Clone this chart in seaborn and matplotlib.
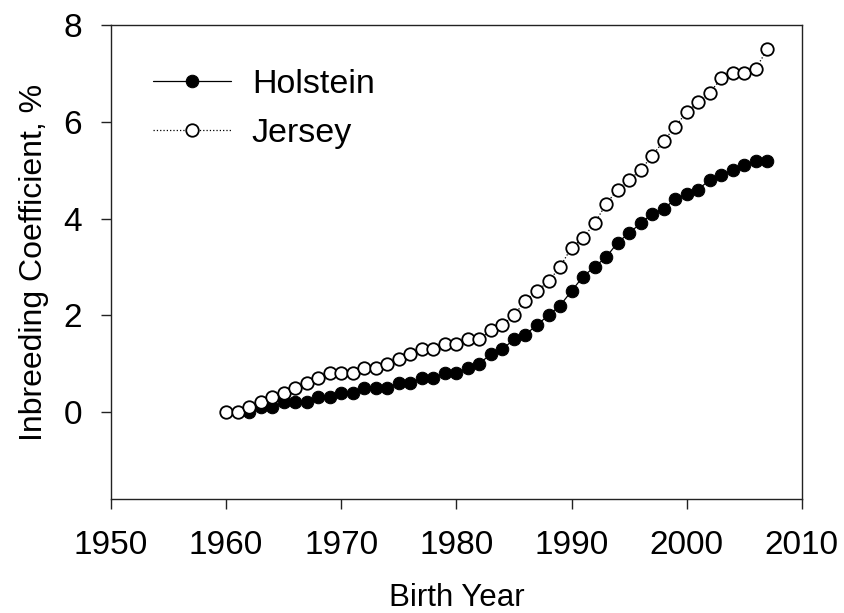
import numpy as np
import pandas as pd
import matplotlib
matplotlib.use("Agg")
import matplotlib.pyplot as plt
import seaborn as sns

# inbreeding coefficient (%) by birth year
holstein_years = list(range(1962, 2008))
holstein_vals = [0.0, 0.1, 0.1, 0.2, 0.2, 0.2, 0.3, 0.3,
                 0.4, 0.4, 0.5, 0.5, 0.5, 0.6, 0.6, 0.7, 0.7, 0.8,
                 0.8, 0.9, 1.0, 1.2, 1.3, 1.5, 1.6, 1.8, 2.0, 2.2,
                 2.5, 2.8, 3.0, 3.2, 3.5, 3.7, 3.9, 4.1, 4.2, 4.4,
                 4.5, 4.6, 4.8, 4.9, 5.0, 5.1, 5.2, 5.2]

jersey_years = list(range(1960, 2008))
jersey_vals = [0.0, 0.0, 0.1, 0.2, 0.3, 0.4, 0.5, 0.6, 0.7, 0.8,
               0.8, 0.8, 0.9, 0.9, 1.0, 1.1, 1.2, 1.3, 1.3, 1.4,
               1.4, 1.5, 1.5, 1.7, 1.8, 2.0, 2.3, 2.5, 2.7, 3.0,
               3.4, 3.6, 3.9, 4.3, 4.6, 4.8, 5.0, 5.3, 5.6, 5.9,
               6.2, 6.4, 6.6, 6.9, 7.0, 7.0, 7.1, 7.5]

x_ticks = [1950, 1960, 1970, 1980, 1990, 2000, 2010]
y_ticks = [0, 2, 4, 6, 8]

hol = pd.DataFrame({"year": holstein_years, "inb": holstein_vals})
jer = pd.DataFrame({"year": jersey_years, "inb": jersey_vals})

sns.set_style("ticks", {"text.color": "black", "axes.labelcolor": "black",
                        "xtick.color": "black", "ytick.color": "black"})
plt.rcParams['font.family'] = ['Liberation Sans', 'DejaVu Sans']

fig, ax = plt.subplots(figsize=(8.44, 6.13), dpi=100)
fig.subplots_adjust(left=0.1315, right=0.950, top=0.959, bottom=0.186)

sns.lineplot(data=hol, x="year", y="inb", ax=ax, color="black", lw=0.9,
             marker="o", markersize=9, markerfacecolor="black",
             markeredgecolor="black", label="Holstein")
sns.lineplot(data=jer, x="year", y="inb", ax=ax, color="black", lw=0.9,
             linestyle=":", marker="o", markersize=9, markerfacecolor="white",
             markeredgecolor="black", markeredgewidth=1.3, label="Jersey")

ax.set_xlim(1950, 2010)
ax.set_ylim(-1.8, 8)
ax.set_xticks(x_ticks)
ax.set_yticks(y_ticks)
ax.tick_params(axis="both", labelsize=24, length=7, width=1, direction="out",
               color="#222222", labelcolor="black")
ax.tick_params(axis="x", pad=15)
ax.tick_params(axis="y", pad=14)
for s in ax.spines.values():
    s.set_linewidth(1.0)
    s.set_color("#222222")

ax.set_xlabel("Birth Year", fontsize=22.5, labelpad=16)
ax.set_ylabel("Inbreeding Coefficient, %", fontsize=23, labelpad=10)

ax.legend(loc="upper left", frameon=False, fontsize=24.5, handlelength=2.3,
          labelspacing=0.52, borderpad=0, borderaxespad=0,
          bbox_to_anchor=(0.061, 0.907), handletextpad=0.6)

fig.savefig("out.png", dpi=100)
